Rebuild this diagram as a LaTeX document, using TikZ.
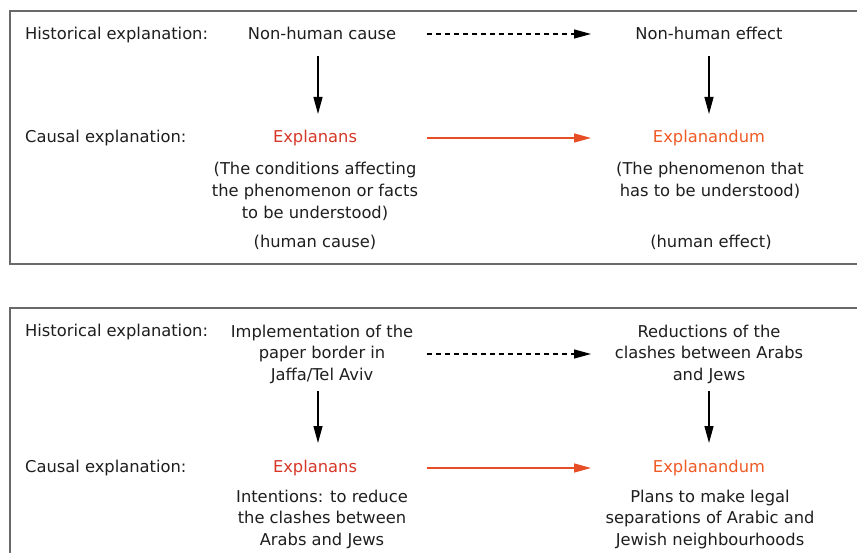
\documentclass[tikz,border=0pt]{standalone}
\usepackage{fontspec}
\setmainfont{DejaVu Sans}
\usetikzlibrary{arrows.meta}
\definecolor{txt}{RGB}{30,30,30}
\definecolor{boxline}{RGB}{105,105,105}
\definecolor{redA}{RGB}{215,55,40}
\definecolor{redB}{RGB}{240,90,36}
\definecolor{redArrow}{RGB}{232,78,38}
\tikzset{
  lbl/.style={anchor=base west, inner sep=0pt, text=txt, font=\fontsize{16.3}{21.7}\selectfont},
  ctr/.style={anchor=base, inner sep=0pt, text=txt, align=center, font=\fontsize{16.3}{21.7}\selectfont},
  frame/.style={draw=boxline, line width=1.2pt},
  tip/.style={-{Triangle[length=17pt,width=9pt]}},
  arr/.style={tip, line width=1.3pt, draw=black},
  dasharr/.style={tip, line width=1.2pt, draw=black, dash pattern=on 5pt off 4pt},
  redarr/.style={tip, line width=1.4pt, draw=redArrow, fill=redArrow},
}
\begin{document}
\begin{tikzpicture}[x=1pt,y=-1pt]
\useasboundingbox (0,0) rectangle (857,553);
\clip (0,0) rectangle (857,553);
\fill[white] (0,0) rectangle (857,553);
% frames
\draw[frame] (10,11) rectangle (900,264);
\draw[frame] (10,308) rectangle (900,620);
% ---------- top panel ----------
% (multi-line nodes are placed at the baseline of their last line)
\node[lbl] (h1) at (25,40) {Historical explanation:};
\node[ctr] (ncause) at (322,40) {Non-human cause};
\node[ctr] (neffect) at (709,40) {Non-human effect};
\node[lbl] (c1) at (25,143) {Causal explanation:};
\node[ctr, text=redA] (ex1) at (315,143) {Explanans};
\node[ctr, text=redB] (ed1) at (709,143) {Explanandum};
\node[ctr] (cond) at (315,218.4) {(The conditions affecting\\the phenomenon or facts\\to be understood)};
\node[ctr] (phen) at (710,196.7) {(The phenomenon that\\has to be understood)};
\node[ctr] (hc) at (315,248) {(human cause)};
\node[ctr] (he) at (711,248) {(human effect)};
\coordinate (d1a) at (318,56);
\coordinate (d1b) at (318,114);
\coordinate (d2a) at (709,56);
\coordinate (d2b) at (709,114);
\draw[arr] (d1a) -- (d1b);
\draw[arr] (d2a) -- (d2b);
\coordinate (h1a) at (427,34);
\coordinate (h1b) at (591,34);
\draw[dasharr] (h1a) -- (h1b);
\coordinate (r1a) at (427,138);
\coordinate (r1b) at (591,138);
\draw[redarr] (r1a) -- (r1b);
% ---------- bottom panel ----------
\node[lbl] (h2) at (25,337) {Historical explanation:};
\node[ctr] (impl) at (322,380.4) {Implementation of the\\paper border in\\Jaffa/Tel Aviv};
\node[ctr] (red) at (709,380.4) {Reductions of the\\clashes between Arabs\\and Jews};
\node[lbl] (c2) at (25,472) {Causal explanation:};
\node[ctr, text=redA] (ex2) at (315,472) {Explanans};
\node[ctr, text=redB] (ed2) at (709,472) {Explanandum};
\node[ctr] (intent) at (322,545.4) {Intentions: to reduce\\the clashes between\\Arabs and Jews};
\node[ctr] (plans) at (710,545.4) {Plans to make legal\\separations of Arabic and\\Jewish neighbourhoods};
\coordinate (d3a) at (318,391);
\coordinate (d3b) at (318,443);
\coordinate (d4a) at (709,391);
\coordinate (d4b) at (709,443);
\draw[arr] (d3a) -- (d3b);
\draw[arr] (d4a) -- (d4b);
\coordinate (h3a) at (427,354);
\coordinate (h3b) at (591,354);
\draw[dasharr] (h3a) -- (h3b);
\coordinate (r2a) at (427,468);
\coordinate (r2b) at (591,468);
\draw[redarr] (r2a) -- (r2b);
\end{tikzpicture}
\end{document}
